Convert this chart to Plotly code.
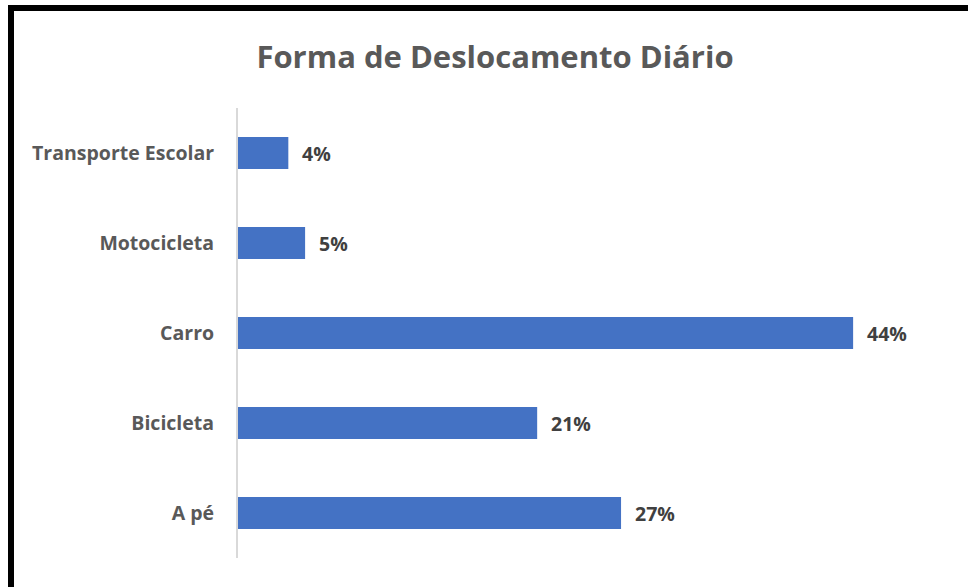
import plotly.graph_objects as go

# categories listed bottom to top (plotly draws the first category at the bottom)
categories = ["A pé", "Bicicleta", "Carro", "Motocicleta", "Transporte Escolar"]
shares = [0.274, 0.214, 0.44, 0.048, 0.036]

title_text = "Forma de Deslocamento Diário"

FONT = "Open Sans"
GREY = "#595959"
BLUE = "#4472C4"

W, H = 968, 587
L, R, T, B = 238, 31, 108, 29
plot_w = W - L - R
plot_h = H - T - B


def px_x(p):
    return (p - L) / plot_w


def px_y(p):
    return (H - B - p) / plot_h


fig = go.Figure()
fig.add_trace(
    go.Bar(
        x=shares,
        y=categories,
        orientation="h",
        marker={"color": BLUE, "line": {"width": 0}},
        hoverinfo="skip",
    )
)

for cat, val in zip(categories, shares):
    fig.add_annotation(
        x=val,
        y=cat,
        text=f"{val:.0%}",
        showarrow=False,
        xanchor="left",
        xshift=12,
        font={"family": FONT, "size": 19.5, "color": "#404040", "weight": "bold"},
    )

# black frame along the top and left edge of the screenshot
fig.add_shape(type="rect", xref="paper", yref="paper",
              x0=px_x(8), x1=px_x(W), y0=px_y(11), y1=px_y(5),
              fillcolor="black", line={"width": 0}, layer="above")
fig.add_shape(type="rect", xref="paper", yref="paper",
              x0=px_x(8), x1=px_x(14), y0=px_y(H), y1=px_y(5),
              fillcolor="black", line={"width": 0}, layer="above")

fig.update_layout(
    width=W,
    height=H,
    margin={"l": L, "r": R, "t": T, "b": B, "autoexpand": False},
    paper_bgcolor="white",
    plot_bgcolor="white",
    showlegend=False,
    bargap=0.644,
    title={
        "text": title_text,
        "x": 495 / W,
        "xanchor": "center",
        "y": 1 - 57 / H,
        "yanchor": "middle",
        "font": {"family": FONT, "size": 31, "color": GREY, "weight": "bold"},
    },
    xaxis={
        "range": [0, 0.5],
        "showgrid": False,
        "zeroline": False,
        "showticklabels": False,
        "showline": False,
        "fixedrange": True,
    },
    yaxis={
        "showgrid": False,
        "zeroline": False,
        "showline": True,
        "linecolor": "#d9d9d9",
        "linewidth": 2,
        "ticks": "",
        "ticklabelstandoff": 18,
        "tickfont": {"family": FONT, "size": 19.5, "color": GREY, "weight": "bold"},
        "fixedrange": True,
    },
)

fig.write_html(
    "out.html",
    config={"displayModeBar": False},
    post_script="document.body.style.margin='0';document.body.style.overflow='hidden';",
)
